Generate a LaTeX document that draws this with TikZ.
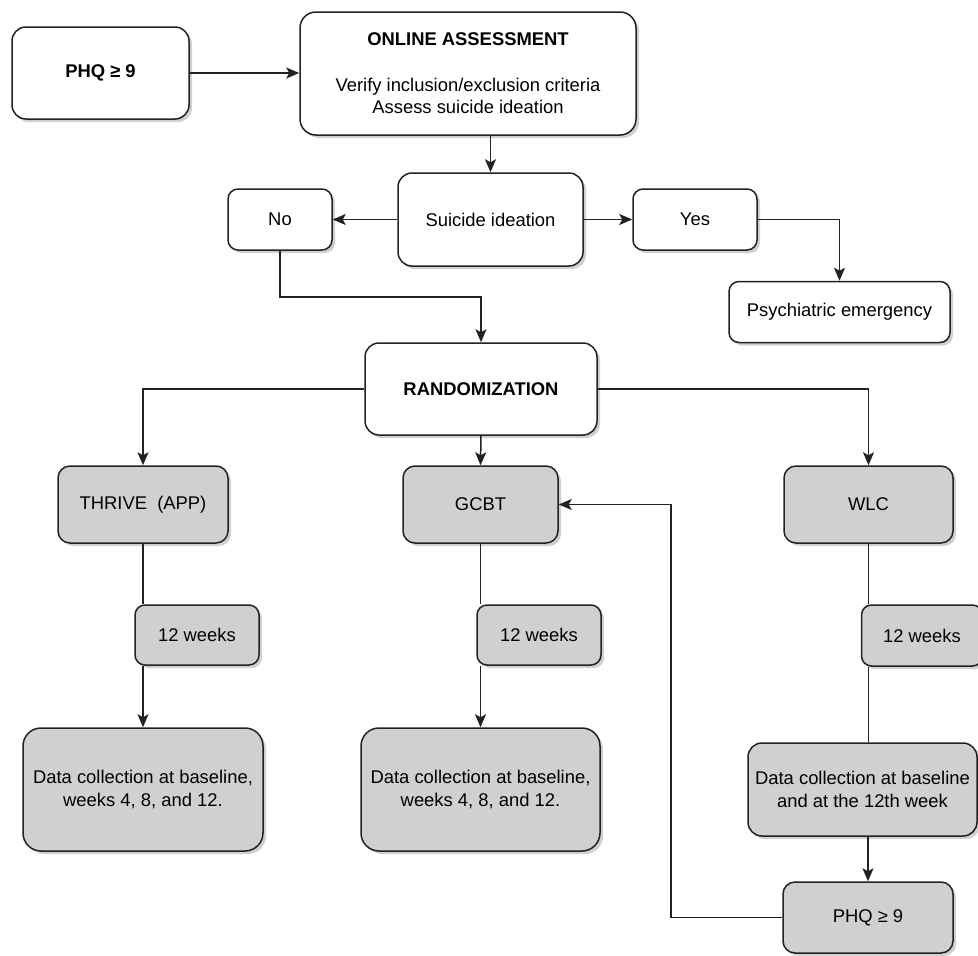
\documentclass[tikz,border=0pt]{standalone}
\usepackage{fontspec}
\setmainfont{Liberation Sans}
\usetikzlibrary{arrows.meta,shadows}
\definecolor{boxgray}{HTML}{D0D0D0}
\definecolor{linecol}{HTML}{222222}
\begin{document}
\begin{tikzpicture}[x=1pt,y=-1pt,
  box/.style={draw=linecol, line width=1.5pt, rounded corners=10pt, fill=white,
    align=center, inner sep=0pt, font=\fontsize{18.4}{23}\selectfont,
    drop shadow={shadow xshift=3pt, shadow yshift=-3pt, opacity=0.3, fill=black!60}},
  gbox/.style={box, fill=boxgray},
  arr/.style={draw=linecol, -{Stealth[length=13pt,width=11pt,inset=3pt]}, line width=1.5pt},
  ln/.style={draw=linecol, line width=1.5pt}]
\clip (0,0) rectangle (978,956);
\fill[white] (0,0) rectangle (978,956);

% top part
\node[box, minimum width=177pt, minimum height=92pt, rounded corners=14pt] (phq1) at (100.5,73) {\textbf{PHQ ≥ 9}};
\node[box, minimum width=336pt, minimum height=123pt, rounded corners=16pt] (oa) at (468,73.5)
  {\textbf{ONLINE ASSESSMENT}\\[23pt]Verify inclusion/exclusion criteria\\[-1pt]Assess suicide ideation};
\node[box, minimum width=185pt, minimum height=93pt, rounded corners=14pt] (si) at (490.5,219.5) {Suicide ideation};
\node[box, minimum width=104pt, minimum height=61pt] (no) at (280,219.5) {No};
\node[box, minimum width=124pt, minimum height=61pt] (yes) at (695,219.5) {Yes};
\node[box, minimum width=221pt, minimum height=61pt] (psych) at (839.5,312) {Psychiatric emergency};
\node[box, minimum width=232pt, minimum height=92pt, rounded corners=14pt] (rand) at (481,389) {\textbf{RANDOMIZATION}};

% arms
\node[gbox, minimum width=170pt, minimum height=77pt, rounded corners=12pt] (thrive) at (143,504.5) {THRIVE\ \ (APP)};
\node[gbox, minimum width=155pt, minimum height=77pt, rounded corners=12pt] (gcbt) at (480.5,504.5) {GCBT};
\node[gbox, minimum width=169pt, minimum height=77pt, rounded corners=12pt] (wlc) at (868.5,504.5) {WLC};

\node[gbox, minimum width=124pt, minimum height=60pt] (w1) at (197,635) {12 weeks};
\node[gbox, minimum width=124pt, minimum height=60pt] (w2) at (539,635) {12 weeks};
\node[gbox, minimum width=121pt, minimum height=61pt] (w3) at (922,635.5) {12 weeks};

\node[gbox, minimum width=240pt, minimum height=123pt, rounded corners=18pt] (d1) at (143,789.5)
  {Data collection at baseline,\\weeks 4, 8, and 12.};
\node[gbox, minimum width=239pt, minimum height=123pt, rounded corners=18pt] (d2) at (480.5,789.5)
  {Data collection at baseline,\\weeks 4, 8, and 12.};
\node[gbox, minimum width=229pt, minimum height=93pt, rounded corners=14pt] (d3) at (862.5,789.5)
  {Data collection at baseline\\and at the 12th week};
\node[gbox, minimum width=170pt, minimum height=71pt, rounded corners=12pt] (phq2) at (868,917.5) {PHQ ≥ 9};

% connectors
\draw[arr] (phq1.east) -- (oa.west |- phq1.east);
\draw[arr] (si.north |- oa.south) -- (si.north);
\draw[arr] (si.west) -- (no.east);
\draw[arr] (si.east) -- (yes.west);
\draw[arr] (yes.east) -| (psych.north);
\coordinate (nb) at (280,297);
\draw[arr] (no.south) -- (nb) -| (rand.north);
\draw[arr] (rand.west) -| (thrive.north);
\draw[arr] (rand.east) -| (wlc.north);
\draw[arr] (rand.south) -- (gcbt.north);

\draw[ln] (thrive.south) -- (thrive.south |- w1.north);
\draw[arr] (thrive.south |- w1.south) -- (d1.north);
\draw[ln] (gcbt.south) -- (gcbt.south |- w2.north);
\draw[arr] (gcbt.south |- w2.south) -- (d2.north);
\draw[ln] (wlc.south) -- (wlc.south |- w3.north);
\draw[ln] (wlc.south |- w3.south) -- (wlc.south |- d3.north);
\draw[arr] (phq2.north |- d3.south) -- (phq2.north);

\coordinate (lp) at (671,0);
\draw[arr] (phq2.west) -| (lp |- gcbt.east) -- (gcbt.east);
\end{tikzpicture}
\end{document}
